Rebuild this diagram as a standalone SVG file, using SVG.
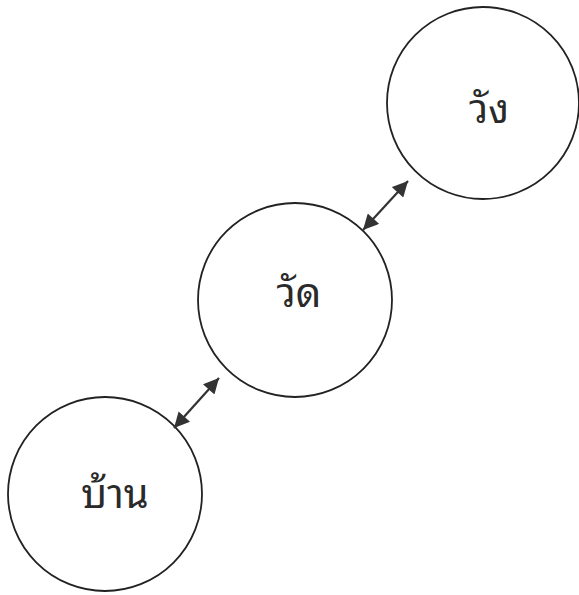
<svg xmlns="http://www.w3.org/2000/svg" width="579" height="595" viewBox="0 0 579 595">
<style>
.node{fill:none;stroke:#222;stroke-width:1.8}
.lbl{font-family:"Noto Sans Thai Looped","Noto Serif Thai","Noto Sans","Noto Sans Thai",sans-serif;font-size:40px;fill:#2a2a2a;text-anchor:middle}
.conn{stroke:#333;stroke-width:2.2;fill:none;marker-start:url(#ah);marker-end:url(#ah)}
</style>
<defs>
<marker id="ah" viewBox="0 0 10 10" refX="10" refY="5" markerWidth="7.5" markerHeight="7" orient="auto-start-reverse" markerUnits="strokeWidth">
<path d="M0,0 L10,5 L0,10 z" fill="#333"/>
</marker>
</defs>
<rect width="579" height="595" fill="#fff"/>
<g id="wang"><circle class="node" cx="483" cy="103" r="96"/><text class="lbl" x="489" y="123">วัง</text></g>
<g id="wat"><circle class="node" cx="295" cy="300" r="97"/><text class="lbl" x="299" y="307">วัด</text></g>
<g id="baan"><circle class="node" cx="105" cy="494" r="97"/><text class="lbl" x="115" y="508">บ้าน</text></g>
<g id="connectors">
<line class="conn" x1="363" y1="230" x2="408" y2="181"/>
<line class="conn" x1="174" y1="428" x2="219" y2="378"/>
</g>
</svg>
